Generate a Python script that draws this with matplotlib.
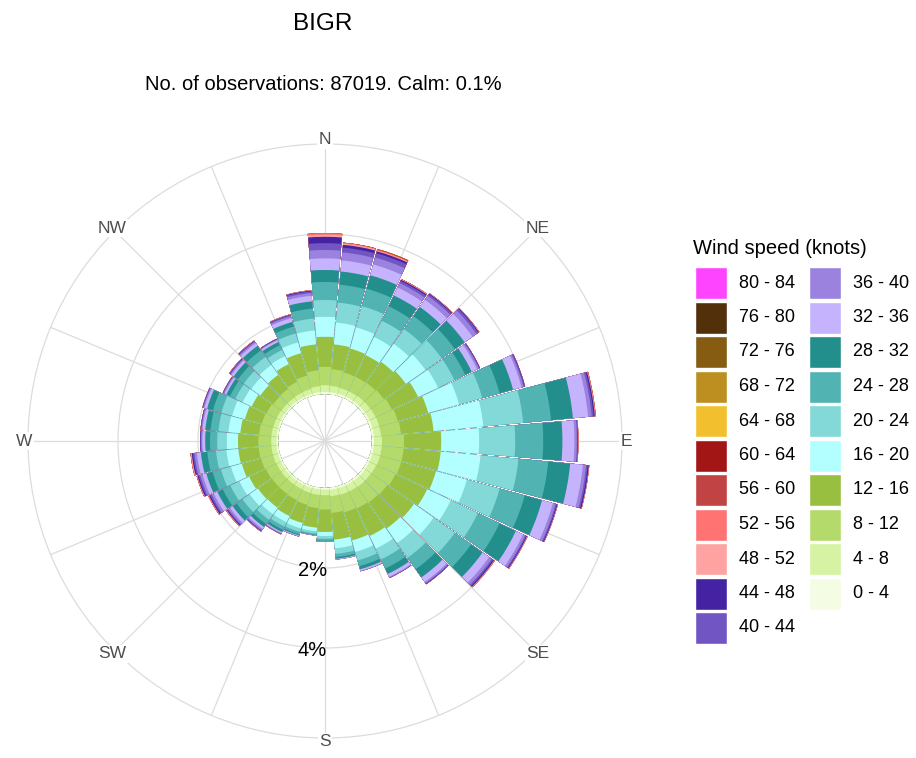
import numpy as np
import matplotlib.pyplot as plt
from matplotlib.patches import Rectangle

plt.rcParams['font.family'] = ['Liberation Sans', 'DejaVu Sans']

# wind directions (deg, sector centres) and frequency (%) per speed bin
directions = np.arange(0, 360, 10)

kt_0_4 = [.05, .05, .05, .05, .05, .05, .05, .05, .05, .05, .05, .05, .05, .05, .05, .05, .05, .05,
          .04, .04, .04, .04, .04, .04, .04, .04, .04, .04, .04, .04, .04, .04, .04, .04, .04, .05]
kt_4_8 = [.17, .16, .15, .15, .16, .16, .17, .18, .18, .20, .20, .20, .19, .18, .18, .17, .17, .16,
          .14, .14, .13, .12, .12, .12, .12, .13, .13, .13, .13, .12, .12, .11, .11, .12, .13, .15]
kt_8_12 = [.46, .42, .40, .40, .40, .42, .45, .48, .50, .55, .55, .55, .53, .50, .48, .47, .45, .42,
           .36, .33, .31, .30, .29, .29, .30, .31, .32, .32, .31, .30, .28, .26, .27, .30, .35, .40]
kt_12_16 = [.75, .62, .62, .60, .64, .67, .73, .79, .82, .93, .93, .90, .88, .82, .79, .76, .73, .67,
            .56, .49, .47, .44, .42, .43, .46, .50, .51, .51, .47, .44, .41, .39, .43, .49, .58, .65]
kt_16_20 = [.50, .55, .55, .50, .55, .60, .55, .80, 1.25, .95, 1.00, .80, .65, .60, .45, .35, .30, .22,
            .10, .09, .14, .17, .20, .25, .27, .28, .30, .28, .30, .33, .25, .28, .30, .22, .28, .35]
kt_20_24 = [.42, .50, .55, .45, .45, .50, .45, .60, 1.00, .90, .95, .85, .75, .65, .45, .30, .22, .14,
            .07, .06, .09, .12, .17, .22, .25, .26, .26, .24, .25, .28, .20, .23, .25, .17, .23, .30]
kt_24_28 = [.45, .45, .45, .40, .40, .40, .30, .45, .70, .70, .75, .65, .60, .50, .35, .25, .15, .08,
            .05, .03, .06, .09, .13, .18, .21, .22, .22, .18, .20, .22, .15, .18, .20, .13, .18, .25]
kt_28_32 = [.30, .33, .35, .30, .28, .30, .18, .35, .55, .48, .55, .45, .45, .35, .25, .15, .08, .04,
            .02, .01, .03, .06, .09, .12, .15, .16, .16, .12, .13, .15, .10, .13, .14, .09, .12, .18]
kt_32_36 = [.29, .28, .28, .22, .22, .24, .15, .22, .38, .30, .32, .28, .20, .20, .14, .08, .04, .02,
            .01, .01, .02, .03, .06, .08, .10, .10, .10, .07, .07, .07, .05, .07, .08, .05, .10, .14]
kt_36_40 = [.21, .20, .18, .12, .12, .12, .05, .05, .09, .06, .08, .07, .06, .08, .04, .02, .01, 0,
            0, 0, .01, .02, .04, .05, .06, .06, .06, .03, .03, .03, .03, .03, .04, .02, .05, .07]
kt_40_44 = [.17, .12, .11, .06, .05, .06, .02, .03, .05, .02, .04, .03, .03, .04, .02, .01, 0, 0,
            0, 0, 0, .01, .02, .03, .04, .04, .04, .02, .01, .01, .01, .02, .02, .01, .03, .04]
kt_44_48 = [.16, .07, .05, .03, .02, .02, .01, .01, .03, .01, .03, .02, .02, .03, .01, 0, 0, 0,
            0, 0, 0, 0, .01, .02, .03, .03, .03, .01, .01, .01, .01, .01, .01, .01, .01, .02]
kt_48_52 = [.05, .03, .02, .01, .01, .01, 0, 0, .01, .01, .01, .01, .01, .01, 0, 0, 0, 0,
            0, 0, 0, .005, .01, .01, .01, .01, .02, 0, 0, 0, 0, .01, .01, 0, .01, .01]
kt_52_56 = [.04, .02, .02, .01, 0, 0, 0, 0, .01, 0, 0, 0, 0, .005, 0, 0, 0, 0,
            0, 0, 0, 0, 0, .01, .01, .01, .01, 0, 0, 0, 0, 0, 0, 0, 0, 0]
kt_56_60 = [0, .005, .01, 0, 0, 0, 0, 0, 0, 0, 0, 0, 0, 0, 0, 0, 0, 0,
            0, 0, 0, 0, 0, 0, 0, 0, 0, 0, 0, 0, 0, 0, 0, 0, 0, 0]
kt_60_64 = [0, 0, .005, 0, 0, 0, 0, 0, 0, 0, 0, 0, 0, 0, 0, 0, 0, 0,
            0, 0, 0, 0, 0, 0, 0, 0, 0, 0, 0, 0, 0, 0, 0, 0, 0, 0]
kt_64_68 = [0, 0, .005, 0, 0, 0, 0, 0, .005, 0, 0, 0, .005, .005, 0, 0, 0, 0,
            0, 0, 0, 0, 0, 0, 0, 0, 0, 0, 0, 0, 0, 0, 0, 0, 0, 0]
kt_68_72 = [0] * 36
kt_72_76 = [0] * 36
kt_76_80 = [0] * 36
kt_80_84 = [0] * 36

speed_labels = ['0 - 4', '4 - 8', '8 - 12', '12 - 16', '16 - 20', '20 - 24', '24 - 28',
                '28 - 32', '32 - 36', '36 - 40', '40 - 44', '44 - 48', '48 - 52', '52 - 56',
                '56 - 60', '60 - 64', '64 - 68', '68 - 72', '72 - 76', '76 - 80', '80 - 84']
speed_colors = ['#f4fde3', '#d5f3a2', '#b5da6c', '#98bf3f', '#b3ffff', '#82d9d8', '#52b3b3',
                '#238f8c', '#c5b3fe', '#9b82de', '#7156c3', '#4422a2', '#ffa2a2', '#ff7373',
                '#c24343', '#a31616', '#f2c02f', '#bd8e20', '#865c12', '#52300a', '#ff44ff']
speed_bins = [kt_0_4, kt_4_8, kt_8_12, kt_12_16, kt_16_20, kt_20_24, kt_24_28, kt_28_32,
              kt_32_36, kt_36_40, kt_40_44, kt_44_48, kt_48_52, kt_52_56, kt_56_60, kt_60_64,
              kt_64_68, kt_68_72, kt_72_76, kt_76_80, kt_80_84]

compass = ['N', 'NE', 'E', 'SE', 'S', 'SW', 'W', 'NW']
r_labels = [2, 4]
rmin, rmax = -1.175, 6.25
grid_col = '#dcdcdc'

fig = plt.figure(figsize=(9.16, 7.58), dpi=100)
ax = fig.add_axes([28 / 916, 20 / 758, 594 / 916, 594 / 758], projection='polar')
ax.set_theta_zero_location('N')
ax.set_theta_direction(-1)
ax.set_axisbelow(True)

theta = np.deg2rad(directions)
# stacked bars, drawn as cumulative totals from the outside in (no seams)
tops = np.cumsum(np.array(speed_bins, dtype=float), axis=0)
for top, col in list(zip(tops, speed_colors))[::-1]:
    ax.bar(theta, top, width=np.deg2rad(9.5), bottom=0, color=col,
           edgecolor='none', linewidth=0, align='center')

ax.set_ylim(rmin, rmax)
ax.set_xticks(np.deg2rad(np.arange(0, 360, 22.5)))
ax.set_xticklabels([])
ax.set_yticks(r_labels)
ax.set_yticklabels([])
ax.grid(True, color=grid_col, linewidth=0.9)
ax.spines['polar'].set_color(grid_col)
ax.spines['polar'].set_linewidth(0.9)

for i, name in enumerate(compass):
    ax.text(np.deg2rad(45 * i), rmax + 0.1, name, ha='center', va='center', fontsize=12.5,
            color='#4d4d4d', bbox=dict(facecolor='white', edgecolor='none', pad=1))
for r in r_labels:
    ax.annotate('%d%%' % r, xy=(np.pi, r), xytext=(2, -3), textcoords='offset pixels',
                ha='right', va='center', fontsize=14.5, color='black')

fig.text(323 / 916, 1 - 24 / 758, 'BIGR', ha='center', va='center', fontsize=17.5)
fig.text(323 / 916, 1 - 85 / 758, 'No. of observations: 87019. Calm: 0.1%',
         ha='center', va='center', fontsize=14.5)

# legend (two columns, highest speed first)
lax = fig.add_axes([0, 0, 1, 1])
lax.set_xlim(0, 916)
lax.set_ylim(758, 0)
lax.axis('off')
lax.text(693, 248, 'Wind speed (knots)', ha='left', va='center', fontsize=14.5)
order = list(range(len(speed_labels)))[::-1]
for k, idx in enumerate(order):
    col, row = divmod(k, 11)
    x0 = 695 + col * 114
    yc = 283 + row * 34.5
    lax.add_patch(Rectangle((x0, yc - 16), 32, 32, facecolor=speed_colors[idx],
                            edgecolor='white', linewidth=1))
    lax.text(x0 + 44, yc, speed_labels[idx], ha='left', va='center', fontsize=13)

fig.savefig('out.png', dpi=100)
